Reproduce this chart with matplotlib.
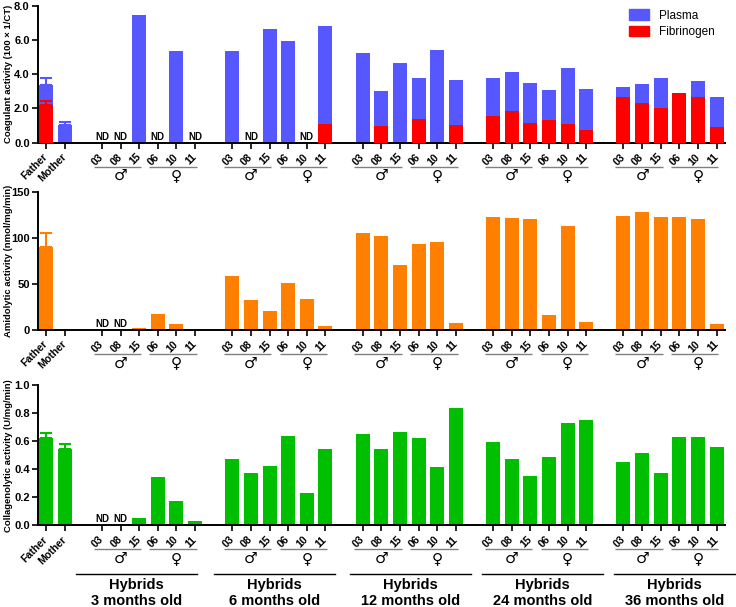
import numpy as np
import matplotlib
matplotlib.use("Agg")
import matplotlib.pyplot as plt
from matplotlib import transforms
from matplotlib.patches import Patch

plt.rcParams['font.family'] = ['Liberation Sans', 'DejaVu Sans']

nan = np.nan
parents = ["Father", "Mother"]
samples = ["03", "08", "15", "06", "10", "11"]
sexes = ["\u2642", "\u2640"]
groups = ["Hybrids\n3 months old", "Hybrids\n6 months old", "Hybrids\n12 months old",
          "Hybrids\n24 months old", "Hybrids\n36 months old"]

# Coagulant activity
plasma_parents = [3.35, 1.05]
plasma_parents_err = [0.41, 0.18]
fib_parents = [2.22, 0.0]
fib_parents_err = [0.22, 0.0]
plasma = [
    [nan, nan, 7.45, nan, 5.35, nan],
    [5.38, nan, 6.63, 5.96, nan, 6.82],
    [5.23, 3.00, 4.64, 3.77, 5.44, 3.68],
    [3.78, 4.13, 3.49, 3.10, 4.35, 3.16],
    [3.27, 3.41, 3.77, 2.75, 3.59, 2.65],
]
fibrinogen = [
    [0, 0, 0, 0, 0, 0],
    [0, 0, 0, 0, 0, 1.09],
    [0, 0.98, 0, 1.40, 0, 1.02],
    [1.56, 1.85, 1.13, 1.34, 1.07, 0.74],
    [2.69, 2.34, 2.03, 2.89, 2.65, 0.90],
]

# Amidolytic activity
amid_parents = [90.5, 1.0]
amid_parents_err = [14.5, 0.0]
amid = [
    [nan, nan, 2.0, 17.0, 7.0, 1.5],
    [58.7, 32.6, 20.3, 51.0, 33.7, 4.7],
    [105.0, 102.5, 71.0, 94.0, 95.3, 7.2],
    [123.0, 122.0, 120.3, 16.0, 112.7, 9.0],
    [124.0, 128.0, 122.5, 122.5, 121.0, 6.5],
]

# Collagenolytic activity
coll_parents = [0.621, 0.543]
coll_parents_err = [0.036, 0.036]
coll = [
    [nan, nan, 0.052, 0.347, 0.174, 0.033],
    [0.474, 0.371, 0.426, 0.636, 0.233, 0.543],
    [0.650, 0.545, 0.669, 0.621, 0.416, 0.840],
    [0.597, 0.476, 0.350, 0.488, 0.733, 0.750],
    [0.454, 0.516, 0.374, 0.633, 0.629, 0.557],
]

C_PLASMA = "#5757FF"
C_FIB = "#FF0000"
C_AMID = "#FF8000"
C_COLL = "#00BF00"

# ---- layout ----
parent_pos = np.array([0, 1])
group_starts = [3 + 7 * g for g in range(5)]
group_pos = [np.arange(s, s + 6) for s in group_starts]
all_pos = np.concatenate([parent_pos] + group_pos)
all_labels = parents + samples * 5
hybrid_spans = [(1.6, 8.1), (9.0, 15.5), (16.3, 22.8), (23.4, 29.9), (30.5, 37.0)]
BW = 0.75

fig = plt.figure(figsize=(7.36, 6.07), dpi=100)
L, W = 38 / 736, (725 - 38) / 736
ax1 = fig.add_axes([L, 1 - 142.7 / 607, W, 137 / 607])
ax2 = fig.add_axes([L, 1 - 330 / 607, W, 138 / 607])
ax3 = fig.add_axes([L, 1 - 525.3 / 607, W, 140 / 607])


def off(ax, dy):
    return transforms.offset_copy(ax.get_xaxis_transform(), fig=fig, x=0, y=dy, units='dots')


def style(ax, ymax, yticks, fmt, ylabel):
    ax.set_xlim(-0.43, 36.45)
    ax.set_ylim(0, ymax)
    for s in ["top", "right"]:
        ax.spines[s].set_visible(False)
    for s in ["left", "bottom"]:
        ax.spines[s].set_linewidth(1.4)
    ax.set_yticks(yticks)
    ax.set_yticklabels([fmt.format(v) for v in yticks], fontweight='bold', fontsize=8)
    ax.set_xticks(all_pos)
    ax.set_xticklabels(all_labels, rotation=45, ha='right', va='center',
                       rotation_mode='anchor', fontweight='bold', fontsize=7.6)
    ax.tick_params(axis='both', direction='out', length=4, width=1.2, pad=2)
    ax.tick_params(axis='x', pad=5)
    ax.set_ylabel(ylabel, fontweight='bold', fontsize=6.8, labelpad=1)
    ax.yaxis.set_label_coords(-0.037, 0.5)
    # sex lines and symbols
    for s in group_starts:
        for k, (a, b) in enumerate([(s - 0.45, s + 2.1), (s + 3 - 0.45, s + 5.1)]):
            ax.plot([a, b], [0, 0], color='#808080', lw=1.0, transform=off(ax, -24),
                    clip_on=False, solid_capstyle='butt')
            ax.text(s + 1 + 3 * k, 0, sexes[k], transform=off(ax, -33), ha='center',
                    va='center', fontsize=11, family=['DejaVu Sans'])


def nd_marks(ax, values):
    for g, vals in enumerate(values):
        for i, v in enumerate(vals):
            if np.isnan(v):
                ax.text(group_pos[g][i], 0, "ND", transform=off(ax, 6), ha='center',
                        va='center', fontsize=7, fontweight='bold')


# Top panel
ax1.bar(parent_pos, plasma_parents, BW, color=C_PLASMA, zorder=2)
ax1.errorbar(parent_pos, plasma_parents, yerr=[[0, 0], plasma_parents_err], fmt='none',
             ecolor=C_PLASMA, capsize=4, elinewidth=1.5, capthick=1.5, zorder=1)
ax1.bar(parent_pos, fib_parents, BW, color=C_FIB, zorder=3)
ax1.errorbar(parent_pos[:1], fib_parents[:1], yerr=[[0], fib_parents_err[:1]], fmt='none',
             ecolor=C_FIB, capsize=4, elinewidth=1.5, capthick=1.5, zorder=2.5)
for g in range(5):
    ax1.bar(group_pos[g], np.nan_to_num(plasma[g]), BW, color=C_PLASMA, zorder=2)
    ax1.bar(group_pos[g], fibrinogen[g], BW, color=C_FIB, zorder=3)
nd_marks(ax1, plasma)
style(ax1, 8, [0, 2, 4, 6, 8], "{:.1f}", "Coagulant activity (100 \u00d7 1/CT)")
ax1.legend(handles=[Patch(color=C_PLASMA, label="Plasma"), Patch(color=C_FIB, label="Fibrinogen")],
           loc='upper left', bbox_to_anchor=(0.845, 1.05), frameon=False, fontsize=8.5,
           handlelength=1.7, handleheight=1.0, labelspacing=0.35)

# Middle panel
ax2.bar(parent_pos, amid_parents, BW, color=C_AMID, zorder=2)
ax2.errorbar(parent_pos[:1], amid_parents[:1], yerr=[[0], amid_parents_err[:1]], fmt='none',
             ecolor=C_AMID, capsize=4, elinewidth=1.5, capthick=1.5, zorder=1)
for g in range(5):
    ax2.bar(group_pos[g], np.nan_to_num(amid[g]), BW, color=C_AMID, zorder=2)
nd_marks(ax2, amid)
style(ax2, 150, [0, 50, 100, 150], "{:.0f}", "Amidolytic activity (nmol/mg/min)")

# Bottom panel
ax3.bar(parent_pos, coll_parents, BW, color=C_COLL, zorder=2)
ax3.errorbar(parent_pos, coll_parents, yerr=[[0, 0], coll_parents_err], fmt='none',
             ecolor=C_COLL, capsize=4, elinewidth=1.5, capthick=1.5, zorder=1)
for g in range(5):
    ax3.bar(group_pos[g], np.nan_to_num(coll[g]), BW, color=C_COLL, zorder=2)
nd_marks(ax3, coll)
style(ax3, 1.0, [0, 0.2, 0.4, 0.6, 0.8, 1.0], "{:.1f}", "Collagenolytic activity (U/mg/min)")

for g, (a, b) in enumerate(hybrid_spans):
    ax3.plot([a, b], [0, 0], color='black', lw=1.0, transform=off(ax3, -49), clip_on=False)
    ax3.text((a + b) / 2, 0, groups[g], transform=off(ax3, -68), ha='center', va='center',
             fontsize=10.5, fontweight='bold', linespacing=1.15)

fig.savefig("out.png", dpi=100)
